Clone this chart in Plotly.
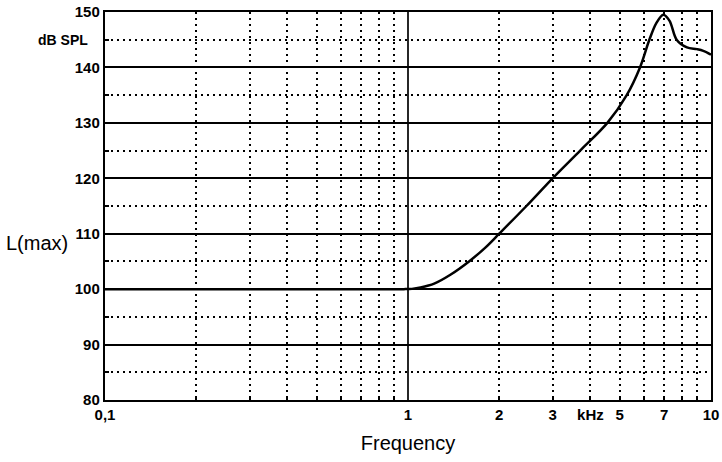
import plotly.graph_objects as go

freq_khz = [0.1, 0.5, 0.9, 0.97, 1.03, 1.1, 1.22, 1.38, 1.59, 1.8, 2.0, 2.46, 3.0, 3.7, 4.55, 5.27,
            5.83, 6.26, 6.6, 6.96, 7.3, 7.7, 8.33, 8.98, 9.43, 10.0]
l_max_db = [100, 100, 100, 100, 100.05, 100.3, 101.0, 102.6, 105, 107.5, 110, 115, 120, 125, 130, 135,
            140, 145, 148.0, 149.5, 148.4, 145, 143.6, 143.3, 143.0, 142.3]

x_tick_vals = [0.1, 1, 2, 3, 4, 5, 7, 10]
x_tick_text = ["0,1", "1", "2", "3", "kHz", "5", "7", "10"]
x_minor_vals = [0.2, 0.3, 0.4, 0.5, 0.6, 0.7, 0.8, 0.9, 2, 3, 4, 5, 6, 7, 8, 9]
y_tick_vals = [80, 90, 100, 110, 120, 130, 140, 150]
y_minor_vals = [85, 95, 105, 115, 125, 135, 145]

font_family = "Liberation Sans, Arial, sans-serif"

fig = go.Figure()
fig.add_trace(go.Scatter(
    x=freq_khz, y=l_max_db, mode="lines",
    line=dict(color="black", width=2.5, shape="spline", smoothing=0.9),
    showlegend=False, hoverinfo="skip"))

fig.update_layout(
    width=722, height=462,
    margin=dict(l=105, r=11, t=12, b=62),
    paper_bgcolor="white", plot_bgcolor="white",
    font=dict(family=font_family, color="black"),
    xaxis=dict(
        type="log", range=[-1, 1], automargin=False,
        tickvals=x_tick_vals, ticktext=x_tick_text,
        tickfont=dict(size=15, weight="bold"),
        showgrid=False, ticks="", zeroline=False,
        showline=True, linecolor="black", linewidth=2.4, mirror=True,
        minor=dict(tickvals=x_minor_vals, showgrid=True, gridcolor="black",
                   griddash="1.5px,4.5px", gridwidth=1.5,
                   ticks="inside", ticklen=4, tickcolor="black", tickwidth=1.5),
        title=dict(text="Frequency", font=dict(size=20), standoff=14),
    ),
    yaxis=dict(
        range=[80, 150], automargin=False,
        tickvals=y_tick_vals,
        tickfont=dict(size=15, weight="bold"),
        showgrid=True, gridcolor="black", gridwidth=1.8,
        ticks="", zeroline=False,
        showline=True, linecolor="black", linewidth=2.4, mirror=True,
        minor=dict(tickvals=y_minor_vals, showgrid=True, gridcolor="black",
                   griddash="1.5px,4.5px", gridwidth=1.5,
                   ticks="inside", ticklen=4, tickcolor="black", tickwidth=1.5),
    ),
    shapes=[dict(type="line", xref="x", yref="paper", x0=1, x1=1, y0=0, y1=1,
                 line=dict(color="black", width=1.7))],
    annotations=[
        dict(text="dB SPL", xref="paper", yref="y", x=-0.024, y=145,
             xanchor="right", yanchor="middle", showarrow=False,
             font=dict(size=14, weight="bold")),
        dict(text="L(max)", xref="paper", yref="y", x=-0.166, y=108.3,
             xanchor="left", yanchor="middle", showarrow=False,
             font=dict(size=20)),
    ],
)

fig.write_html("out.html", config={"displayModeBar": False},
               post_script="document.body.style.margin='0';")
